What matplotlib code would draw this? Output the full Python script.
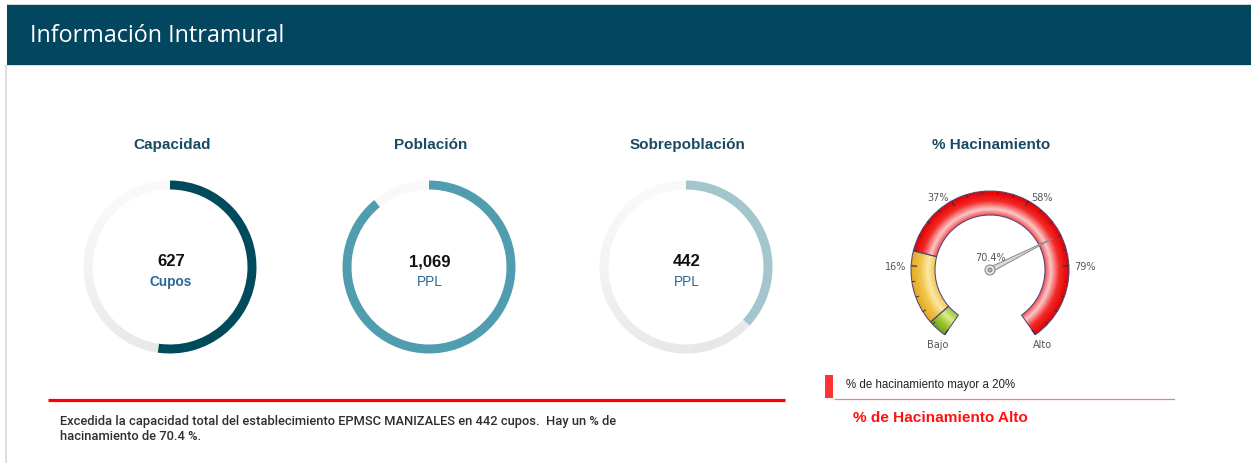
import numpy as np
import matplotlib
matplotlib.use("Agg")
import matplotlib.pyplot as plt
from matplotlib.patches import Wedge, Rectangle, Circle, Polygon
from matplotlib.colors import to_rgb
from matplotlib import font_manager

# ---------------- data ----------------
header_title = "Información Intramural"
donut_titles = ["Capacidad", "Población", "Sobrepoblación"]
donut_values = [627, 1069, 442]
donut_value_labels = ["627", "1,069", "442"]
donut_units = ["Cupos", "PPL", "PPL"]
donut_max = 1200
donut_colors = ["#004b5b", "#4f9daf", "#a3c5cc"]

gauge_title = "% Hacinamiento"
gauge_value = 70.4
gauge_min, gauge_max = -5, 100
gauge_band_limits = [(-5, 0), (0, 20), (20, 100)]
gauge_tick_values = [16, 37, 58, 79]
gauge_tick_labels = ["16%", "37%", "58%", "79%"]
gauge_end_labels = ["Bajo", "Alto"]

summary_text = ("Excedida la capacidad total del establecimiento EPMSC MANIZALES en 442 cupos.  Hay un % de\n"
                "hacinamiento de 70.4 %.")
legend_text = "% de hacinamiento mayor a 20%"
status_text = "% de Hacinamiento Alto"

# ---------------- figure ----------------
W, H = 1251, 463
fig = plt.figure(figsize=(W / 100, H / 100), dpi=100)
ax = fig.add_axes([0, 0, 1, 1])

installed = {f.name for f in font_manager.fontManager.ttflist}
arial = "Liberation Sans"
body_font = "Roboto" if "Roboto" in installed else arial

# frame and header
ax.add_patch(Rectangle((5, 65), 2, H - 65, color="#dedede", lw=0))
ax.add_patch(Rectangle((7, 3.5), W - 7, 1.5, color="#d6d6d6", lw=0))
ax.add_patch(Rectangle((7, 5), W - 7, 59.5, color="#02465f", lw=0))
ax.add_patch(Rectangle((7, 64.5), W - 7, 1.2, color="#cfe6ee", lw=0))
ax.text(30, 36, header_title, color="white", fontsize=16.8, family="Open Sans",
        va="center", ha="left")

# ---------------- donuts ----------------
centers_x = [170, 429, 686]
cy = 267
R_out, R_w = 86.5, 9


def ang_pt(cx, cy_, r, a):
    a = np.deg2rad(a)
    return cx + r * np.sin(a), cy_ - r * np.cos(a)


for i in range(3):
    cx = centers_x[i]
    sweep = donut_values[i] / donut_max * 360
    n = 60
    rest = np.linspace(sweep, 360, n + 1)
    for a0, a1 in zip(rest[:-1], rest[1:]):
        mid = (a0 + a1) / 2
        xx, yy = ang_pt(0, 0, 1, mid)
        t = (yy + 1) / 2 * 0.8 + (xx + 1) / 2 * 0.2
        g = 0.985 - 0.085 * t
        ax.add_patch(Wedge((cx, cy), R_out, a0 - 90, a1 - 90 + 0.3, width=R_w,
                           facecolor=(g, g, g), edgecolor="none"))
    ax.add_patch(Wedge((cx, cy), R_out, -90, -90 + sweep, width=R_w,
                       facecolor=donut_colors[i], edgecolor="none"))
    ax.text(cx + 2, 145, donut_titles[i], family=arial, fontweight="bold",
            fontsize=11, color="#1b4a64", ha="center", va="center")
    ax.text(cx + 1, 262, donut_value_labels[i], family=arial, fontweight="bold",
            fontsize=12, color="#111111", ha="center", va="center")
    ax.text(cx + 1, 282, donut_units[i], family=arial,
            fontweight="bold" if i == 0 else "normal",
            fontsize=9.8, color="#2a6896", ha="center", va="center")

# ---------------- gauge ----------------
gcx, gcy = 990, 270
g_out, g_in = 79, 55
a_start, a_end = -145, 145


def v2a(v):
    return a_start + (v - gauge_min) / (gauge_max - gauge_min) * (a_end - a_start)


profiles = [
    [(0.0, "#9cc43a"), (0.35, "#d9ee8a"), (0.6, "#a6cc3c"), (1.0, "#6f9e1c")],
    [(0.0, "#f2c650"), (0.3, "#fbe9a8"), (0.6, "#f1c54a"), (1.0, "#e2a824")],
    [(0.0, "#f04a4a"), (0.25, "#fcc8c8"), (0.6, "#f42a2a"), (1.0, "#e20000")],
]

# radial gradient images clipped to each band
res = 4
xs = np.linspace(gcx - g_out - 2, gcx + g_out + 2, int((2 * g_out + 4) * res))
ys = np.linspace(gcy - g_out - 2, gcy + g_out + 2, int((2 * g_out + 4) * res))
XX, YY = np.meshgrid(xs, ys)
RR = np.hypot(XX - gcx, YY - gcy)
TT = np.clip((RR - g_in) / (g_out - g_in), 0, 1)
extent = (xs[0], xs[-1], ys[-1], ys[0])

for (v1, v2), prof in zip(gauge_band_limits, profiles):
    a1, a2 = v2a(v1), v2a(v2)
    ts = [p[0] for p in prof]
    cols = np.array([to_rgb(p[1]) for p in prof])
    img = np.dstack([np.interp(TT, ts, cols[:, j]) for j in range(3)])
    band = Wedge((gcx, gcy), g_out, a1 - 90, a2 - 90, width=g_out - g_in,
                 facecolor="none", edgecolor="#54457a", lw=0.75, zorder=3)
    ax.add_patch(band)
    im = ax.imshow(img, extent=extent, origin="upper", interpolation="bilinear",
                   zorder=2)
    im.set_clip_path(band)

# ticks
minor_step = 4.2
for k in range(int(round((gauge_max - gauge_min) / minor_step)) + 1):
    v = gauge_min + k * minor_step
    a = v2a(v)
    major = k % 5 == 0
    L = 6 if major else 3.5
    x0, y0 = ang_pt(gcx, gcy, g_out, a)
    x1, y1 = ang_pt(gcx, gcy, g_out - L, a)
    ax.plot([x0, x1], [y0, y1], color="#3a3040", lw=0.9 if major else 0.7,
            solid_capstyle="butt", zorder=4)

for v, lab in zip(gauge_tick_values, gauge_tick_labels):
    a = v2a(v)
    x, y = ang_pt(gcx, gcy, 84, a)
    ax.text(x, y + 1, lab, fontsize=7, color="#555555", family="DejaVu Sans",
            ha="right" if a < 0 else "left", va="center")

for v, lab in zip([gauge_min, gauge_max], gauge_end_labels):
    x, y = ang_pt(gcx, gcy, 92, v2a(v))
    ax.text(x, y, lab, fontsize=7, color="#555555", family="DejaVu Sans",
            ha="center", va="center")

# needle
a = v2a(gauge_value)
tip = ang_pt(gcx, gcy, 70, a)
tail = ang_pt(gcx, gcy, -4, a)
s1 = ang_pt(gcx, gcy, 2.6, a + 90)
s2 = ang_pt(gcx, gcy, 2.6, a - 90)
ax.add_patch(Polygon([tail, s1, tip, s2], closed=True, facecolor="#d9d9d9",
                     edgecolor="#8a8a8a", lw=0.7, zorder=5))
ax.add_patch(Circle((gcx, gcy), 5, facecolor="#e6e6e6", edgecolor="#8a8a8a",
                    lw=0.8, zorder=6))
ax.add_patch(Circle((gcx, gcy), 2, facecolor="#b5b5b5", edgecolor="#7a7a7a",
                    lw=0.6, zorder=7))
ax.text(gcx, 258, f"{gauge_value}%", fontsize=7, color="#555555",
        family="DejaVu Sans", ha="center", va="center", zorder=8)

ax.text(gcx + 1, 145, gauge_title, family=arial, fontweight="bold",
        fontsize=11, color="#1b4a64", ha="center", va="center")

# ---------------- bottom ----------------
ax.plot([48, 785], [400, 400], color="#ff0000", lw=2.3, solid_capstyle="butt")
ax.text(60, 429, summary_text, family=body_font, fontsize=9.3, color="#2e2e2e",
        ha="left", va="center", linespacing=1.25, fontweight="medium")

ax.add_patch(Rectangle((825, 375), 8, 23, color="#ff3333", lw=0))
ax.plot([835, 1174], [399, 399], color="#ff7a7a", lw=0.9)
ax.text(846, 385, legend_text, family=arial, fontsize=8.3, color="#222222",
        ha="left", va="center")
ax.text(853, 418, status_text, family=arial, fontweight="bold", fontsize=11.1,
        color="#ff1111", ha="left", va="center")

ax.set_xlim(0, W)
ax.set_ylim(H, 0)
ax.set_aspect("equal")
ax.axis("off")

fig.savefig("out.png", dpi=100)
